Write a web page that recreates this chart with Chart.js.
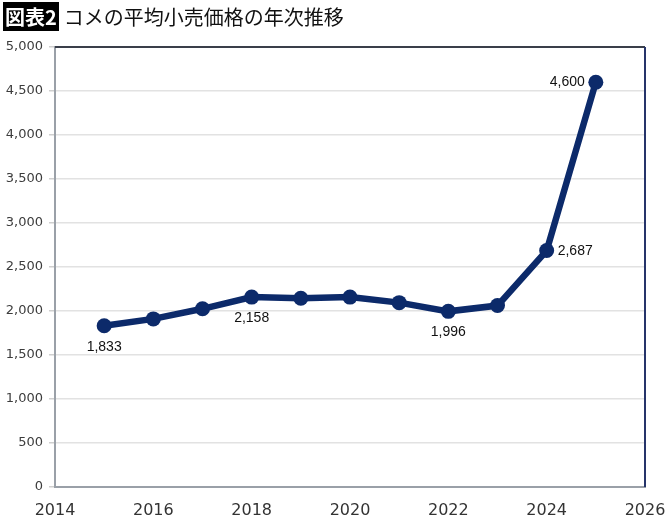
<!DOCTYPE html>
<html>
<head>
<meta charset="utf-8">
<script src="https://cdn.jsdelivr.net/npm/chart.js@4/dist/chart.umd.min.js"></script>
<style>
  body { margin: 0; background: #fff; }
  #wrap { position: relative; width: 670px; height: 520px; }
  #title {
    position: absolute; left: 3px; top: 4px;
    font-family: "Noto Sans CJK JP", sans-serif; font-size: 20px; color: #111;
    line-height: 26px; white-space: nowrap;
  }
  #title .tag { background: #000; color: #fff; font-weight: bold; padding: 0 2px; margin-right: 5px; }
  canvas { position: absolute; left: 0; top: 0; }
</style>
</head>
<body>
<div id="wrap">
  <canvas id="riceChart" width="670" height="520"></canvas>
  <div id="title"><span class="tag">図表2</span>コメの平均小売価格の年次推移</div>
</div>
<script>
const years = [2015, 2016, 2017, 2018, 2019, 2020, 2021, 2022, 2023, 2024, 2025];
const prices = [1833, 1910, 2025, 2158, 2145, 2158, 2095, 1996, 2062, 2687, 4600];
// which points get a number, and where it sits
const labelAt = { 2015: 'below', 2018: 'below', 2022: 'below', 2024: 'right', 2025: 'left' };
const xTicks = [2014, 2016, 2018, 2020, 2022, 2024, 2026];

const navy = '#0c2a6a';
const tickFont = '"DejaVu Sans", sans-serif';
const labelFont = '"Liberation Sans", Arial, sans-serif';
const fmt = v => v.toLocaleString('en-US');

const frame = {
    id: 'frame',
    afterDatasetsDraw(chart) {
        const { ctx, chartArea: a } = chart;
        ctx.save();
        ctx.lineWidth = 2;
        ctx.strokeStyle = '#3a3f4a';
        ctx.beginPath(); ctx.moveTo(a.left, a.top); ctx.lineTo(a.right, a.top); ctx.stroke();
        ctx.strokeStyle = '#26346a';
        ctx.beginPath(); ctx.moveTo(a.right, a.top); ctx.lineTo(a.right, a.bottom); ctx.stroke();
        ctx.restore();
    }
};

const pointLabels = {
    id: 'pointLabels',
    afterDatasetsDraw(chart) {
        const { ctx } = chart;
        const meta = chart.getDatasetMeta(0);
        ctx.save();
        ctx.font = '14px ' + labelFont;
        ctx.fillStyle = '#111';
        meta.data.forEach((pt, i) => {
            const pos = labelAt[years[i]];
            if (!pos) return;
            const txt = fmt(prices[i]);
            if (pos === 'below') {
                ctx.textAlign = 'center'; ctx.textBaseline = 'top';
                ctx.fillText(txt, pt.x, pt.y + 14);
            } else if (pos === 'right') {
                ctx.textAlign = 'left'; ctx.textBaseline = 'middle';
                ctx.fillText(txt, pt.x + 11, pt.y + 1);
            } else {
                ctx.textAlign = 'right'; ctx.textBaseline = 'middle';
                ctx.fillText(txt, pt.x - 11, pt.y);
            }
        });
        ctx.restore();
    }
};

new Chart(document.getElementById('riceChart'), {
    type: 'line',
    data: {
        datasets: [{
            data: years.map((y, i) => ({ x: y, y: prices[i] })),
            borderColor: navy,
            backgroundColor: navy,
            borderWidth: 6.5,
            pointRadius: 7.5,
            pointBackgroundColor: navy,
            pointBorderWidth: 0,
            tension: 0
        }]
    },
    options: {
        responsive: false,
        animation: false,
        layout: { padding: { top: 47, right: 25, left: 0, bottom: 0 } },
        plugins: { legend: { display: false }, tooltip: { enabled: false } },
        scales: {
            x: {
                type: 'linear',
                min: 2014, max: 2026,
                afterBuildTicks: s => { s.ticks = xTicks.map(v => ({ value: v })); },
                afterFit: s => { s.height = 33; s.paddingRight = 0; s.paddingLeft = 0; },
                grid: { drawOnChartArea: false, drawTicks: false },
                border: { color: '#9aa0a8', width: 2 },
                ticks: {
                    padding: 14,
                    maxRotation: 0,
                    color: '#333',
                    font: { family: tickFont, size: 16 },
                    callback: v => String(v)
                }
            },
            y: {
                min: 0, max: 5000,
                afterFit: s => { s.width = 55; },
                ticks: {
                    stepSize: 500,
                    padding: 6,
                    color: '#3c3c3c',
                    font: { family: tickFont, size: 13 },
                    callback: v => fmt(v)
                },
                grid: { color: '#e2e2e2', lineWidth: 1.5, tickLength: 6, tickColor: '#cfcfcf' },
                border: { color: '#9aa0a8', width: 2 }
            }
        }
    },
    plugins: [frame, pointLabels]
});
</script>
</body>
</html>
